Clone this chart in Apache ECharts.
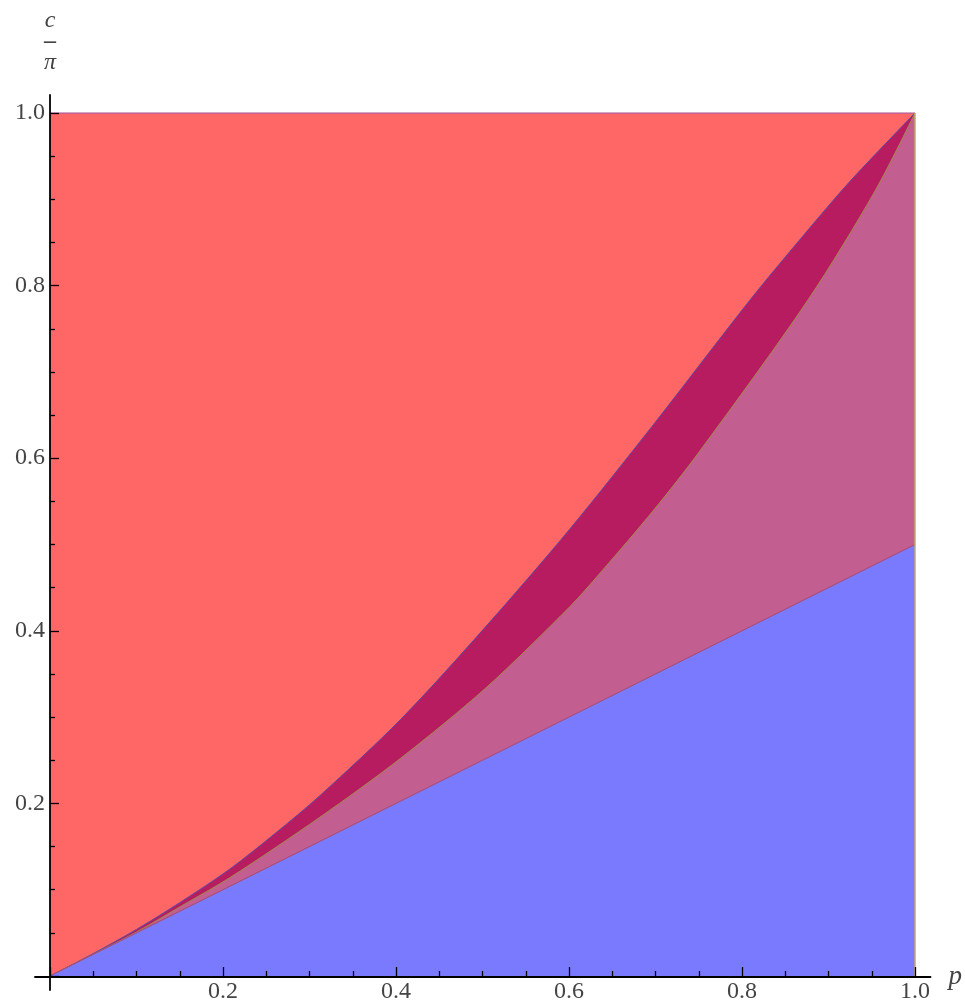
<!DOCTYPE html>
<html>
<head>
<meta charset="utf-8">
<script src="https://cdn.jsdelivr.net/npm/echarts@6/dist/echarts.min.js"></script>
<style>
html,body{margin:0;padding:0;background:#fff;}
#chart{width:965px;height:1004px;}
</style>
</head>
<body>
<div id="chart"></div>
<script>
// ---- data ----
const xTicks = [0, 0.2, 0.4, 0.6, 0.8, 1.0];
const yTicks = [0, 0.2, 0.4, 0.6, 0.8, 1.0];

const topP = [0, 1];
const topC = [1, 1];

const upperP = [0, 0.05, 0.1, 0.15, 0.208, 0.26, 0.312, 0.405, 0.503, 0.601, 0.7, 0.809, 0.87, 0.925, 1.0];
const upperC = [0, 0.026, 0.054, 0.085, 0.124, 0.165, 0.209, 0.297, 0.404, 0.518, 0.642, 0.783, 0.857, 0.921, 1.0];

const lowerP = [0, 0.05, 0.1, 0.15, 0.208, 0.312, 0.405, 0.503, 0.601, 0.636, 0.698, 0.751, 0.876, 0.954, 1.0];
const lowerC = [0, 0.025, 0.051, 0.080, 0.114, 0.184, 0.252, 0.333, 0.428, 0.467, 0.540, 0.608, 0.783, 0.910, 1.0];

const lineP = [0, 1];
const lineC = [0, 0.5];

const edgeP = [1, 1];
const edgeC = [0, 1];

const zip = (a, b) => a.map((v, i) => [v, b[i]]);

const serif = '"Liberation Serif", "DejaVu Serif", serif';
const chart = echarts.init(document.getElementById('chart'));

const fmt = v => (Math.abs(v) < 1e-9 ? '' : v.toFixed(1));

const option = {
  animation: false,
  backgroundColor: '#ffffff',
  grid: [
    { left: 50, right: 50, top: 113, bottom: 27 },
    { left: 35, right: 33, top: 95, bottom: 14 }
  ],
  xAxis: [
    {
      gridIndex: 0, type: 'value', min: 0, max: 1, interval: 0.2, z: 10,
      axisLine: { show: false },
      axisTick: { show: true, inside: true, length: 9, lineStyle: { color: '#000', width: 1.3 } },
      minorTick: { show: true, splitNumber: 4, length: 5, lineStyle: { color: '#000', width: 1.3 } },
      splitLine: { show: false },
      axisLabel: { formatter: fmt, margin: 4, fontFamily: serif, fontSize: 24, color: '#444' }
    },
    {
      gridIndex: 1, type: 'value', min: -15 / 865, max: 1 + 17 / 865, z: 10,
      axisLine: { show: true, onZero: true, lineStyle: { color: '#000', width: 1.8 } },
      axisTick: { show: false }, axisLabel: { show: false }, splitLine: { show: false },
      name: 'p', nameLocation: 'end', nameGap: 18,
      nameTextStyle: { fontFamily: serif, fontStyle: 'italic', fontSize: 27, color: '#444', padding: [0, 0, 34, 0] }
    }
  ],
  yAxis: [
    {
      gridIndex: 0, type: 'value', min: 0, max: 1, interval: 0.2, z: 10,
      axisLine: { show: false },
      axisTick: { show: true, inside: true, length: 9, lineStyle: { color: '#000', width: 1.3 } },
      minorTick: { show: true, splitNumber: 4, length: 5, lineStyle: { color: '#000', width: 1.3 } },
      splitLine: { show: false },
      axisLabel: { formatter: fmt, margin: 5, fontFamily: serif, fontSize: 24, color: '#444' }
    },
    {
      gridIndex: 1, type: 'value', min: -13 / 865, max: 1 + 18 / 865, z: 10,
      axisLine: { show: true, onZero: true, lineStyle: { color: '#000', width: 1.8 } },
      axisTick: { show: false }, axisLabel: { show: false }, splitLine: { show: false },
      name: '{c|c}\n{b|–}\n{c|π}', nameLocation: 'end', nameGap: 20,
      nameTextStyle: {
        rich: {
          c: { fontFamily: serif, fontStyle: 'italic', fontSize: 24, color: '#444', lineHeight: 24, align: 'center' },
          b: { fontFamily: serif, fontSize: 24, fontWeight: 'bold', color: '#444', lineHeight: 18, align: 'center' }
        }
      }
    }
  ],
  series: [
    {
      type: 'line', xAxisIndex: 0, yAxisIndex: 0, z: 2, symbol: 'none',
      data: zip(topP, topC),
      lineStyle: { color: '#b4629a', width: 1.5 },
      areaStyle: { color: '#ff6666', opacity: 1 }
    },
    {
      type: 'line', xAxisIndex: 0, yAxisIndex: 0, z: 3, symbol: 'none', smooth: 0.3,
      data: zip(upperP, upperC),
      lineStyle: { color: '#5a4aa8', width: 1 },
      areaStyle: { color: '#b71c60', opacity: 1 }
    },
    {
      type: 'line', xAxisIndex: 0, yAxisIndex: 0, z: 4, symbol: 'none', smooth: 0.3,
      data: zip(lowerP, lowerC),
      lineStyle: { color: '#a08a48', width: 1 },
      areaStyle: { color: '#c35e91', opacity: 1 }
    },
    {
      type: 'line', xAxisIndex: 0, yAxisIndex: 0, z: 5, symbol: 'none',
      data: zip(lineP, lineC),
      lineStyle: { color: '#a84a70', width: 1 },
      areaStyle: { color: '#7a7aff', opacity: 1 }
    },
    {
      type: 'line', xAxisIndex: 0, yAxisIndex: 0, z: 6, symbol: 'none',
      data: zip(edgeP, edgeC),
      lineStyle: { color: '#c0aa6a', width: 1.5 }
    }
  ]
};
chart.setOption(option);
</script>
</body>
</html>
